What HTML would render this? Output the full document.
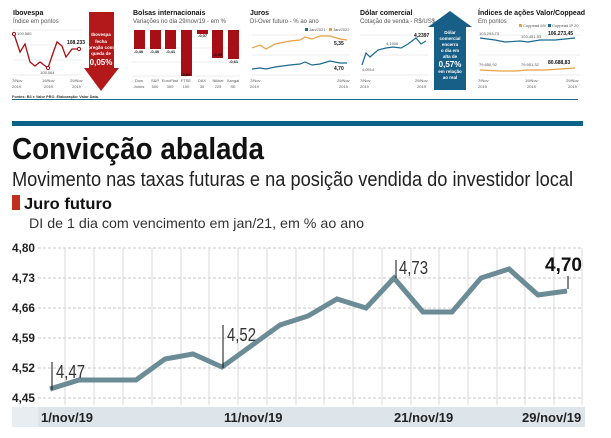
<!DOCTYPE html>
<html><head><meta charset="utf-8"><style>
html,body{margin:0;padding:0;background:#fff;}
svg{display:block;font-family:"Liberation Sans",sans-serif;}
</style></head><body>
<svg width="611" height="438" viewBox="0 0 611 438" xmlns="http://www.w3.org/2000/svg">
<g font-size="5" fill="#555">
<text x="13" y="15" font-size="7" font-weight="bold" fill="#111">Ibovespa</text>
<text x="13" y="23" font-size="6">Índice em pontos</text>
<g stroke="#ddd" stroke-width="0.6"><line x1="13" y1="30" x2="82" y2="30"/><line x1="13" y1="45" x2="82" y2="45"/><line x1="13" y1="60" x2="82" y2="60"/><line x1="13" y1="75" x2="82" y2="75"/></g>
<polyline fill="none" stroke="#a50f15" stroke-width="1.3" points="14,34 20,52 25,44 30,62 35,66 40,62 48,68 52,56 57,42 62,46 66,57 72,49 79,49"/>
<circle cx="14" cy="34" r="1.6" fill="#fff" stroke="#a50f15"/><circle cx="48" cy="68" r="1.6" fill="#fff" stroke="#a50f15"/><circle cx="79" cy="49" r="1.6" fill="#fff" stroke="#a50f15"/>
<text x="17" y="35" font-size="4">109.580</text><text x="40" y="74" font-size="4">105.064</text>
<text x="67" y="44" font-size="5" font-weight="bold" fill="#111">108.233</text>
<text x="12" y="82" font-size="4">7/Nov</text><text x="12" y="88" font-size="4">2019</text>
<text x="42" y="82" font-size="4">19/Nov</text><text x="44" y="88" font-size="4">2019</text>
<text x="70" y="82" font-size="4">29/Nov</text><text x="72" y="88" font-size="4">2019</text>
<polygon points="89,12 114,12 114,68 119,68 101,91 84,68 89,68" fill="#b3181b"/>
<g fill="#fff" font-size="4.5" font-weight="bold" text-anchor="middle"><text x="101" y="36">Ibovespa</text><text x="101" y="43">fecha</text><text x="101" y="49">pregão com</text><text x="101" y="55">queda de</text><text x="101" y="65" font-size="8">0,05%</text></g>

<text x="133" y="15" font-size="7" font-weight="bold" fill="#111">Bolsas internacionais</text>
<text x="133" y="23" font-size="6">Variações no dia 29/nov/19 - em %</text>
<g stroke="#ddd" stroke-width="0.6"><line x1="132" y1="48" x2="240" y2="48"/><line x1="132" y1="62" x2="240" y2="62"/><line x1="132" y1="76" x2="240" y2="76"/></g>
<g fill="#a50f15"><rect x="134" y="30" width="11" height="19"/><rect x="150" y="30" width="11" height="19"/><rect x="165" y="30" width="11" height="19"/><rect x="181" y="30" width="11" height="46"/><rect x="197" y="30" width="11" height="4"/><rect x="212" y="30" width="11" height="28"/><rect x="228" y="30" width="11" height="29"/></g>
<g font-size="4" font-weight="bold" fill="#111"><text x="134" y="53">-0,40</text><text x="150" y="53">-0,40</text><text x="166" y="53">-0,41</text><text x="181" y="76">-0,84</text><text x="198" y="37">-0,07</text><text x="213" y="56">-0,49</text><text x="229" y="63">-0,61</text></g>
<g font-size="4" text-anchor="middle"><text x="139" y="82">Dow</text><text x="139" y="88">Jones</text><text x="155" y="82">S&amp;P</text><text x="155" y="88">500</text><text x="170" y="82">EuroFirst</text><text x="170" y="88">300</text><text x="186" y="82">FTSE</text><text x="186" y="88">100</text><text x="202" y="82">DAX</text><text x="202" y="88">30</text><text x="218" y="82">Nikkei</text><text x="218" y="88">225</text><text x="233" y="82">Xangai</text><text x="233" y="88">SE</text></g>

<text x="250" y="15" font-size="7" font-weight="bold" fill="#111">Juros</text>
<text x="250" y="23" font-size="6">DI-Over futuro - % ao ano</text>
<rect x="305" y="28" width="3" height="3" fill="#1a6a90"/><text x="309" y="31" font-size="4">Jan/2021</text>
<rect x="329" y="28" width="3" height="3" fill="#e8a040"/><text x="333" y="31" font-size="4">Jan/2022</text>
<g stroke="#ddd" stroke-width="0.6"><line x1="252" y1="35" x2="350" y2="35"/><line x1="252" y1="55" x2="350" y2="55"/><line x1="252" y1="75" x2="350" y2="75"/></g>
<polyline fill="none" stroke="#e8a040" stroke-width="1.2" points="252,48 260,45 266,49 275,44 290,41 300,40 305,37 312,39 320,36 330,36 340,39 347,40"/>
<polyline fill="none" stroke="#1a6a90" stroke-width="1.2" points="252,69 260,68 266,69 275,67 290,65 300,64 305,62 312,65 320,64 330,61 340,63 347,63"/>
<text x="334" y="45" font-size="5" font-weight="bold" fill="#111">5,35</text><text x="334" y="70" font-size="5" font-weight="bold" fill="#111">4,70</text>
<text x="250" y="82" font-size="4">7/Nov</text><text x="250" y="88" font-size="4">2019</text><text x="337" y="82" font-size="4">29/Nov</text><text x="339" y="88" font-size="4">2019</text>

<text x="360" y="15" font-size="7" font-weight="bold" fill="#111">Dólar comercial</text>
<text x="360" y="23" font-size="6">Cotação de venda - R$/US$</text>
<g stroke="#ddd" stroke-width="0.6"><line x1="360" y1="35" x2="428" y2="35"/><line x1="360" y1="55" x2="428" y2="55"/><line x1="360" y1="75" x2="428" y2="75"/></g>
<polyline fill="none" stroke="#1a6a90" stroke-width="1.2" points="362,65 366,53 370,57 378,50 386,48 393,47 401,48 408,44 416,38 421,44 426,41"/>
<text x="362" y="71" font-size="4">4,0914</text><text x="386" y="45" font-size="4">4,1900</text><text x="414" y="37" font-size="5" font-weight="bold" fill="#111">4,2397</text>
<text x="360" y="82" font-size="4">7/Nov</text><text x="360" y="88" font-size="4">2019</text><text x="415" y="82" font-size="4">29/Nov</text><text x="417" y="88" font-size="4">2019</text>
<polygon points="450,11 472,27 466,27 466,90 434,90 434,27 428,27" fill="#175f86"/>
<g fill="#fff" font-size="4.5" font-weight="bold" text-anchor="middle"><text x="450" y="34">Dólar</text><text x="450" y="40">comercial</text><text x="450" y="46">encerra</text><text x="450" y="52">o dia em</text><text x="450" y="58">alta de</text><text x="450" y="67" font-size="8">0,57%</text><text x="450" y="73">em relação</text><text x="450" y="79">ao real</text></g>

<text x="478" y="15" font-size="7" font-weight="bold" fill="#111">Índices de ações Valor/Coppead</text>
<text x="478" y="23" font-size="6">Em pontos</text>
<rect x="519" y="24" width="3" height="3" fill="#e8a040"/><text x="523" y="27" font-size="4">Coppead MV</text>
<rect x="548" y="24" width="3" height="3" fill="#1a6a90"/><text x="552" y="27" font-size="4">Coppead IP 20</text>
<g stroke="#ddd" stroke-width="0.6"><line x1="479" y1="35" x2="580" y2="35"/><line x1="479" y1="55" x2="580" y2="55"/><line x1="479" y1="75" x2="580" y2="75"/></g>
<polyline fill="none" stroke="#1a6a90" stroke-width="1.2" points="480,38 495,40 505,42 520,41 528,42 540,40 555,40 565,39 575,38"/>
<polyline fill="none" stroke="#e8a040" stroke-width="1.2" points="480,70 500,71 515,71 528,70 545,70 560,69 575,68"/>
<text x="479" y="35" font-size="4">103.293,73</text><text x="521" y="38" font-size="4">103.451,53</text><text x="548" y="35" font-size="5" font-weight="bold" fill="#111">106.273,45</text>
<text x="479" y="66" font-size="4">79.650,92</text><text x="521" y="66" font-size="4">79.951,32</text><text x="548" y="64" font-size="5" font-weight="bold" fill="#111">80.688,83</text>
<text x="478" y="82" font-size="4">7/Nov</text><text x="478" y="88" font-size="4">2019</text><text x="525" y="82" font-size="4">19/Nov</text><text x="527" y="88" font-size="4">2019</text><text x="566" y="82" font-size="4">29/Nov</text><text x="568" y="88" font-size="4">2019</text>
<text x="12" y="98" font-size="3.8" font-weight="bold" fill="#333">Fontes: B3 e Valor PRO. Elaboração: Valor Data.</text>
</g>
<rect x="12" y="99" width="566" height="1" fill="#1a6a90"/>

<rect x="12" y="121" width="571" height="5" fill="#0b6288"/>
<text x="12" y="159" font-size="31" font-weight="bold" fill="#111" textLength="252" lengthAdjust="spacingAndGlyphs">Convicção abalada</text>
<text x="12" y="186" font-size="20" fill="#222" textLength="561" lengthAdjust="spacingAndGlyphs">Movimento nas taxas futuras e na posição vendida do investidor local</text>
<rect x="12" y="195" width="8" height="15" fill="#c0301e"/>
<text x="24" y="209" font-size="16" font-weight="bold" fill="#111" textLength="88" lengthAdjust="spacingAndGlyphs">Juro futuro</text>
<text x="29" y="228" font-size="14" fill="#333" textLength="335" lengthAdjust="spacingAndGlyphs">DI de 1 dia com vencimento em jan/21, em % ao ano</text>

<rect x="12" y="407" width="26" height="20" fill="#e8edf1"/>
<rect x="38" y="407" width="547" height="20" fill="#dde4ea"/>
<g stroke="#c8c8c8" stroke-width="1" stroke-dasharray="3,2">
<line x1="38" y1="248" x2="582" y2="248"/><line x1="38" y1="278" x2="582" y2="278"/><line x1="38" y1="308" x2="582" y2="308"/><line x1="38" y1="338" x2="582" y2="338"/><line x1="38" y1="368" x2="582" y2="368"/><line x1="38" y1="398" x2="582" y2="398"/>
</g>
<g stroke="#d8d8d8" stroke-width="1">
<line x1="65" y1="248" x2="65" y2="405"/><line x1="94" y1="248" x2="94" y2="405"/><line x1="123" y1="248" x2="123" y2="405"/><line x1="152" y1="248" x2="152" y2="405"/><line x1="181" y1="248" x2="181" y2="405"/><line x1="209" y1="248" x2="209" y2="405"/><line x1="238" y1="248" x2="238" y2="405"/><line x1="267" y1="248" x2="267" y2="405"/><line x1="296" y1="248" x2="296" y2="405"/><line x1="324" y1="248" x2="324" y2="405"/><line x1="353" y1="248" x2="353" y2="405"/><line x1="382" y1="248" x2="382" y2="405"/><line x1="411" y1="248" x2="411" y2="405"/><line x1="439" y1="248" x2="439" y2="405"/><line x1="468" y1="248" x2="468" y2="405"/><line x1="497" y1="248" x2="497" y2="405"/><line x1="525" y1="248" x2="525" y2="405"/><line x1="554" y1="248" x2="554" y2="405"/><line x1="582" y1="248" x2="582" y2="405"/>
</g>
<g font-size="12" font-weight="bold" fill="#222">
<text x="12" y="252" textLength="23" lengthAdjust="spacingAndGlyphs">4,80</text><text x="12" y="282" textLength="23" lengthAdjust="spacingAndGlyphs">4,73</text><text x="12" y="312" textLength="23" lengthAdjust="spacingAndGlyphs">4,66</text><text x="12" y="342" textLength="23" lengthAdjust="spacingAndGlyphs">4,59</text><text x="12" y="372" textLength="23" lengthAdjust="spacingAndGlyphs">4,52</text><text x="12" y="402" textLength="23" lengthAdjust="spacingAndGlyphs">4,45</text>
</g>
<polyline fill="none" stroke="#6b8b96" stroke-width="5" stroke-linejoin="miter" points="50,389 79,380 107,380 136,380 165,359 193,354 222,367 251,346 280,325 308,316 337,299 366,308 394,278 423,312 452,312 481,278 509,269 538,295 567,291"/>
<g stroke="#111" stroke-width="1">
<line x1="52" y1="362" x2="52" y2="390"/><line x1="223" y1="325" x2="223" y2="368"/><line x1="396" y1="260" x2="396" y2="278"/><line x1="568" y1="276" x2="568" y2="289"/>
</g>
<g font-size="18" fill="#333">
<text x="56" y="378" textLength="29" lengthAdjust="spacingAndGlyphs">4,47</text><text x="227" y="341" textLength="29" lengthAdjust="spacingAndGlyphs">4,52</text><text x="399" y="274" textLength="29" lengthAdjust="spacingAndGlyphs">4,73</text>
</g>
<text x="582" y="271" font-size="19" font-weight="bold" fill="#111" text-anchor="end">4,70</text>
<g font-size="13" font-weight="bold" fill="#222">
<text x="41" y="422">1/nov/19</text><text x="224" y="422">11/nov/19</text><text x="394" y="422">21/nov/19</text><text x="522" y="422">29/nov/19</text>
</g>
</svg>
</body></html>
